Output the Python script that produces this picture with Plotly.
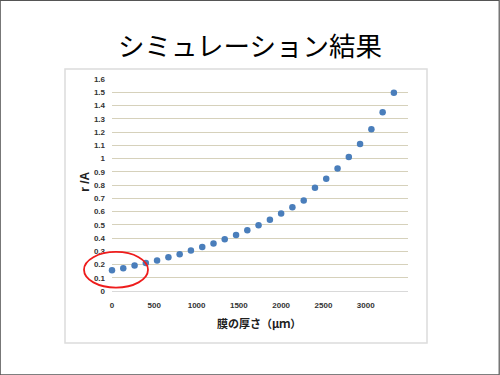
import plotly.graph_objects as go

thickness_um = [0, 133, 267, 400, 533, 667, 800, 933, 1067, 1200, 1333, 1467, 1600,
                1733, 1867, 2000, 2133, 2267, 2400, 2533, 2667, 2800, 2933, 3067, 3200, 3333]
r_over_a = [0.156, 0.172, 0.192, 0.212, 0.23, 0.255, 0.277, 0.305, 0.333, 0.358, 0.39,
            0.423, 0.459, 0.497, 0.537, 0.585, 0.633, 0.683, 0.779, 0.847, 0.925, 1.011,
            1.109, 1.22, 1.349, 1.497]
x_ticks = [0, 500, 1000, 1500, 2000, 2500, 3000]
y_ticks = [0, 0.1, 0.2, 0.3, 0.4, 0.5, 0.6, 0.7, 0.8, 0.9, 1, 1.1, 1.2, 1.3, 1.4, 1.5, 1.6]
title_text = "シミュレーション結果"
x_title = "膜の厚さ（μｍ）"
y_title = "r /A"

W, H = 500, 375
L, R, T, B = 112.3, 91.7, 79, 84.3
PW, PH = W - L - R, H - T - B


def px(x):
    return (x - L) / PW


def py(y):
    return (H - B - y) / PH


fig = go.Figure()
fig.add_trace(go.Scatter(x=thickness_um, y=r_over_a, mode="markers",
                         marker=dict(color="#4a7ebb", size=6.5),
                         cliponaxis=False, hoverinfo="skip"))

tickfont = dict(family="Liberation Sans", size=8, color="#333333", weight="bold")
fig.update_layout(
    width=W, height=H, autosize=False,
    margin=dict(l=L, r=R, t=T, b=B, pad=0),
    paper_bgcolor="white", plot_bgcolor="white",
    showlegend=False,
    xaxis=dict(range=[0, 3500], tickvals=x_ticks, showgrid=False, zeroline=False,
               showline=True, linecolor="#d9d9d9", linewidth=1, ticks="",
               tickfont=tickfont, ticklabelstandoff=6),
    yaxis=dict(range=[0, 1.6], tickvals=y_ticks, showgrid=True, gridcolor="#d6d1bb",
               gridwidth=1.4, zeroline=False, showline=False, ticks="",
               tickfont=tickfont, ticklabelstandoff=6),
)

shapes = [
    # slide border
    dict(type="rect", xref="paper", yref="paper", x0=px(0.5), x1=px(499.5),
         y0=py(374.5), y1=py(0.5), line=dict(color="#555555", width=1.2), layer="below"),
    # chart box
    dict(type="rect", xref="paper", yref="paper", x0=px(65.3), x1=px(427.3),
         y0=py(342.7), y1=py(69), line=dict(color="#dcdcdc", width=1.5), layer="below"),
    # red ellipse
    dict(type="circle", xref="paper", yref="paper", x0=px(84.3), x1=px(148.3),
         y0=py(287.3), y1=py(251.7), line=dict(color="#ee1c1c", width=1.8)),
]
fig.update_layout(shapes=shapes)

fig.add_annotation(text=title_text, xref="paper", yref="paper", x=px(250), y=py(45),
                   showarrow=False, xanchor="center", yanchor="middle",
                   font=dict(family="Noto Sans CJK JP", size=26.5, color="#000000"))
fig.add_annotation(text=x_title, xref="paper", yref="paper", x=px(259), y=py(322.7),
                   showarrow=False, xanchor="center", yanchor="middle",
                   font=dict(family="Noto Sans CJK JP", size=11, color="#202020", weight="bold"))
fig.add_annotation(text=y_title, xref="paper", yref="paper", x=px(85), y=py(182),
                   showarrow=False, xanchor="center", yanchor="middle", textangle=-90,
                   font=dict(family="Liberation Sans", size=12, color="#202020", weight="bold"))

fig.write_html("out.html")
